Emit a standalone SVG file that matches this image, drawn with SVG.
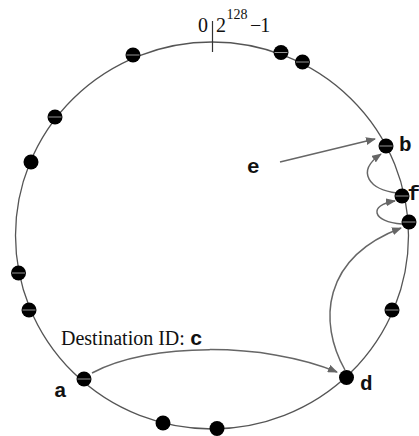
<svg xmlns="http://www.w3.org/2000/svg" width="419" height="436" viewBox="0 0 419 436">
<style>
.ring{fill:none;stroke:#555;stroke-width:1.3}
.node{fill:#000}
.seam{stroke:#bbb;stroke-width:0.8}
.conn{fill:none;stroke:#666;stroke-width:1.5}
.serif{font-family:"Liberation Serif","Times New Roman",serif;fill:#111}
.lbl{font-family:"Liberation Mono","Courier New",monospace;font-weight:bold;font-size:21px;fill:#111}
</style>
<defs>
<marker id="ah" viewBox="0 0 10 8" refX="9" refY="4" markerWidth="10" markerHeight="8" markerUnits="userSpaceOnUse" orient="auto">
<path d="M0,0 L10,4 L0,8 Z" fill="#666"/>
</marker>
</defs>
<rect width="419" height="436" fill="#fff"/>
<ellipse class="ring" cx="212" cy="235.5" rx="196.5" ry="193.5"/>
<g id="origin">
<line x1="212.5" y1="21" x2="212.5" y2="52" stroke="#333" stroke-width="1.2"/>
<text class="serif" x="198" y="32" font-size="20">0</text>
<text class="serif" x="216" y="32" font-size="20">2</text>
<text class="serif" x="226.5" y="19" font-size="14">128</text>
<text class="serif" x="250" y="32" font-size="20" letter-spacing="-1">−1</text>
</g>
<g id="connectors">
<path class="conn" d="M280,162 L375,139" marker-end="url(#ah)"/>
<path class="conn" d="M397,193 C370,190 355,172 381,154" marker-end="url(#ah)"/>
<path class="conn" d="M402,224 C372,222 368,205 395,201" marker-end="url(#ah)"/>
<path class="conn" d="M345,370 C318,322 322,258 401,228" marker-end="url(#ah)"/>
<path class="conn" d="M92,373 C150,342 265,342 337,372" marker-end="url(#ah)"/>
</g>
<g id="n1"><circle class="node" cx="281" cy="52.5" r="7.5"/><line class="seam" x1="274.5" y1="52.5" x2="287.5" y2="52.5"/></g>
<g id="n2"><circle class="node" cx="302.5" cy="62" r="7.5"/><line class="seam" x1="296" y1="62" x2="309" y2="62"/></g>
<g id="n3"><circle class="node" cx="133" cy="55" r="7.5"/><line class="seam" x1="126.5" y1="55" x2="139.5" y2="55"/></g>
<g id="n4"><circle class="node" cx="55" cy="117" r="7.5"/><line class="seam" x1="48.5" y1="117" x2="61.5" y2="117"/></g>
<g id="n5"><circle class="node" cx="31" cy="162" r="7.5"/></g>
<g id="n6"><circle class="node" cx="18.5" cy="273" r="7.5"/><line class="seam" x1="12" y1="273" x2="25" y2="273"/></g>
<g id="n7"><circle class="node" cx="29" cy="310" r="7.5"/><line class="seam" x1="22.5" y1="310" x2="35.5" y2="310"/></g>
<g id="a"><circle class="node" cx="84" cy="379" r="7.5"/><line class="seam" x1="77.5" y1="379" x2="90.5" y2="379"/><text class="lbl" x="54" y="397">a</text></g>
<g id="n8"><circle class="node" cx="163" cy="423" r="7.5"/></g>
<g id="n9"><circle class="node" cx="217" cy="428.5" r="7.5"/></g>
<g id="d"><circle class="node" cx="346.5" cy="377.5" r="7.5"/><text class="lbl" x="360" y="390">d</text></g>
<g id="n10"><circle class="node" cx="392" cy="310" r="7.5"/><line class="seam" x1="385.5" y1="310" x2="398.5" y2="310"/></g>
<g id="g"><circle class="node" cx="409" cy="222" r="7.5"/><line class="seam" x1="402.5" y1="222" x2="415.5" y2="222"/></g>
<g id="f"><circle class="node" cx="402" cy="196" r="7.5"/><line class="seam" x1="395.5" y1="196" x2="408.5" y2="196"/><text class="lbl" x="407.5" y="200" font-size="16">f</text></g>
<g id="b"><circle class="node" cx="386" cy="146" r="7.5"/><line class="seam" x1="379.5" y1="146" x2="392.5" y2="146"/><text class="lbl" x="399" y="151">b</text></g>
<g id="e"><text class="lbl" x="247" y="173">e</text></g>
<g id="dest"><text class="serif" x="61" y="345" font-size="20">Destination ID: <tspan class="lbl">c</tspan></text></g>
</svg>
